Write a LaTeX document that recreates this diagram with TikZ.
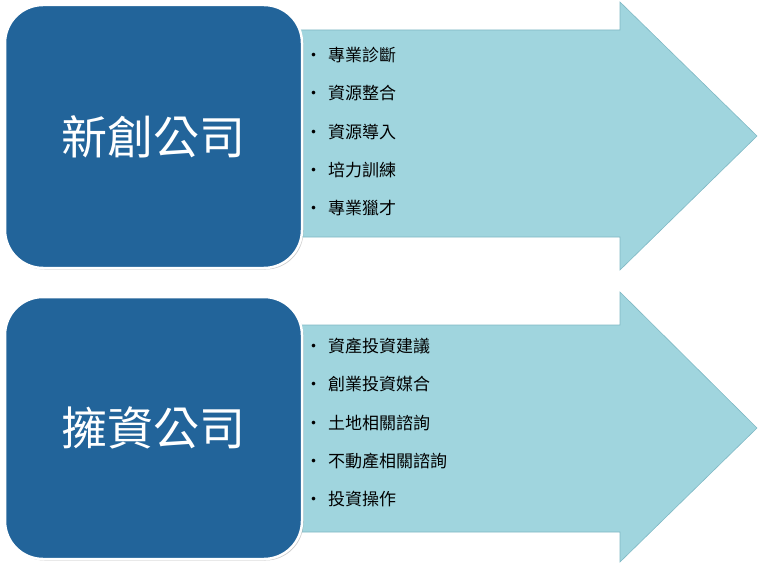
\documentclass[tikz,border=0pt]{standalone}
\usepackage{fontspec}
\newfontfamily\cjk{Noto Sans CJK TC}
\usetikzlibrary{shadows}
\definecolor{boxblue}{HTML}{22649A}
\definecolor{arrowfill}{HTML}{A0D5DE}
\definecolor{arrowedge}{HTML}{7FB8C4}
\tikzset{
  bigbox/.style={draw=white,line width=2.5pt,fill=boxblue,rounded corners=38pt,drop shadow={shadow xshift=1.5pt,shadow yshift=-1.5pt,opacity=0.4}},
  bigarrow/.style={draw=arrowedge,line width=0.6pt,fill=arrowfill},
  title/.style={font=\cjk\fontsize{46}{50}\selectfont,text=white},
  item/.style={font=\cjk\fontsize{17}{20}\selectfont,anchor=west,inner sep=0pt}
}
\begin{document}
\begin{tikzpicture}[x=1pt,y=-1pt]
\useasboundingbox (0,0) rectangle (768,564);
% top
\draw[bigarrow] (270,30) -- (620,30) -- (620,2) -- (757,136) -- (620,270) -- (620,237) -- (270,237) -- cycle;
\draw[bigbox] (5,5) rectangle (302,268);
\node[title] (t1) at (153,137) {新創公司};
\foreach \t [count=\i] in {專業診斷,資源整合,資源導入,培力訓練,專業獵才}{
  \node[item] (a\i) at (305,{55+38.3*(\i-1)}) {\textbullet\hspace{6pt}\t};
}
% bottom
\draw[bigarrow] (270,325) -- (620,325) -- (620,292) -- (757,428) -- (620,562) -- (620,532) -- (270,532) -- cycle;
\draw[bigbox] (5,297) rectangle (302,559);
\node[title] (t2) at (153,428) {擁資公司};
\foreach \t [count=\i] in {資產投資建議,創業投資媒合,土地相關諮詢,不動產相關諮詢,投資操作}{
  \node[item] (b\i) at (305,{346+38.3*(\i-1)}) {\textbullet\hspace{6pt}\t};
}
\end{tikzpicture}
\end{document}
